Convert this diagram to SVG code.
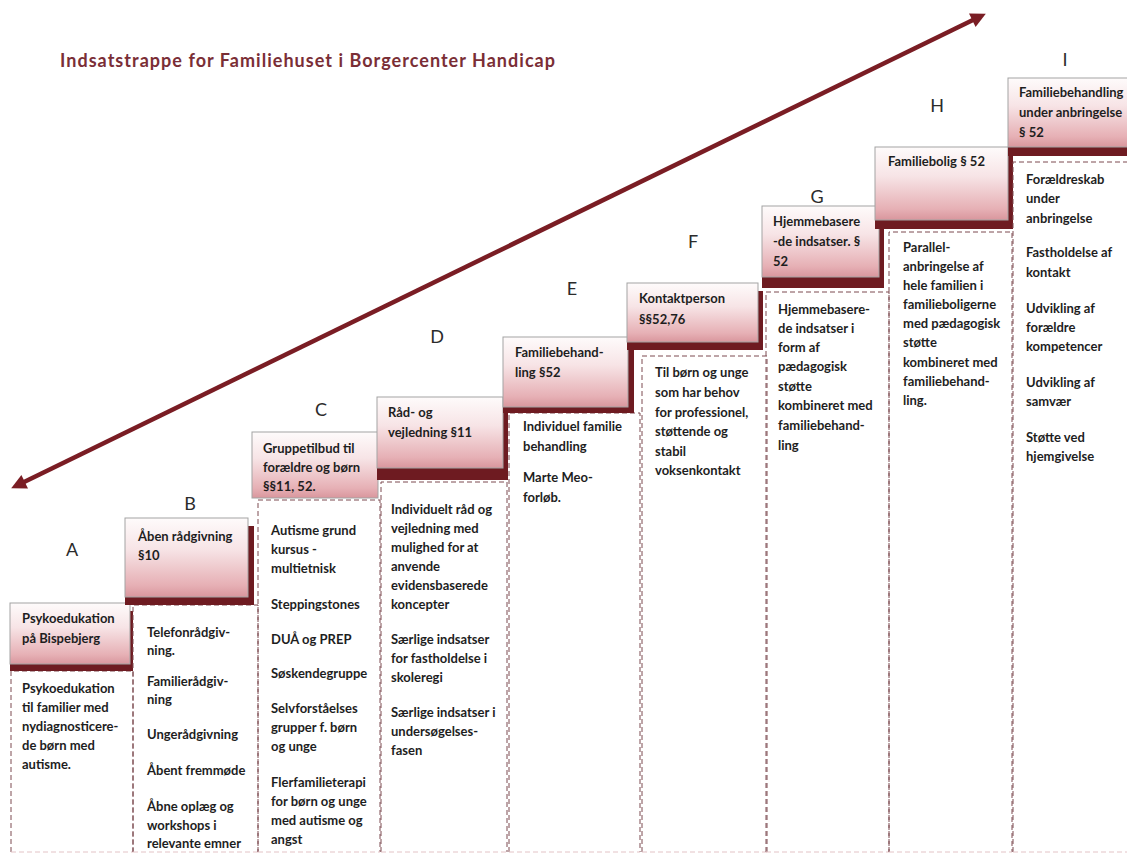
<svg xmlns="http://www.w3.org/2000/svg" width="1127" height="856" viewBox="0 0 1127 856">
<defs>
<linearGradient id="hg" x1="0" y1="0" x2="0" y2="1">
<stop offset="0" stop-color="#fefbfb"/>
<stop offset="0.4" stop-color="#f7e4e6"/>
<stop offset="0.85" stop-color="#e6b0b5"/>
<stop offset="1" stop-color="#d9969d"/>
</linearGradient>
<marker id="ah" viewBox="0 0 10 10" refX="2" refY="5" markerWidth="18" markerHeight="15" markerUnits="userSpaceOnUse" orient="auto-start-reverse"><path d="M0,0 L10,5 L0,10 z" fill="#7a1d24"/></marker>
</defs>
<style>
.t{font-family:Lato,"Liberation Sans",sans-serif;font-weight:700;font-size:13px;fill:#1e1e1e}
.lt{font-family:Lato,"Liberation Sans",sans-serif;font-size:18px;fill:#2b2b2b;text-anchor:middle}
.hd{fill:url(#hg);stroke:#a3a3a3;stroke-width:1}
.sh{fill:#6e1b21}
.cb{fill:none;stroke:#7d4a50;stroke-width:1;stroke-dasharray:5 3}
.bt{fill:none;stroke:#e3c3c6;stroke-width:1;stroke-dasharray:5 3}
.ttl{font-family:Lato,"Liberation Sans",sans-serif;font-weight:700;font-size:18px;fill:#7a2e36}
.arr{stroke:#7a1d24;stroke-width:4.5;fill:none}
</style>
<rect width="1127" height="856" fill="#fff"/>
<text class="ttl" x="60" y="67" textLength="495" lengthAdjust="spacing">Indsatstrappe for Familiehuset i Borgercenter Handicap</text>

<g id="connectors">
<line class="arr" x1="22" y1="483" x2="975" y2="19" marker-start="url(#ah)" marker-end="url(#ah)"/>
</g>

<g id="step-A">
<path class="cb" d="M11,852 V671 H133 V852"/><path class="bt" d="M11,852 H133"/>
<rect class="sh" x="10" y="611" width="123" height="60"/>
<rect class="hd" x="10" y="603" width="120" height="61"/>
<text class="lt" x="72" y="556">A</text>
<text class="t" x="22" y="623">Psykoedukation</text>
<text class="t" x="22" y="643">på Bispebjerg</text>
<text class="t" x="22" y="693">Psykoedukation</text>
<text class="t" x="22" y="712">til familier med</text>
<text class="t" x="22" y="731">nydiagnosticere-</text>
<text class="t" x="22" y="750">de børn med</text>
<text class="t" x="22" y="769">autisme.</text>
</g>

<g id="step-B">
<path class="cb" d="M133,852 V605 H258 V852"/><path class="bt" d="M133,852 H258"/>
<rect class="sh" x="125" y="526" width="129" height="79"/>
<rect class="hd" x="125" y="518" width="123" height="79"/>
<text class="lt" x="190" y="510">B</text>
<text class="t" x="138" y="541">Åben rådgivning</text>
<text class="t" x="138" y="560">§10</text>
<text class="t" x="147" y="637">Telefonrådgiv-</text>
<text class="t" x="147" y="655">ning.</text>
<text class="t" x="147" y="686">Familierådgiv-</text>
<text class="t" x="147" y="704">ning</text>
<text class="t" x="147" y="739">Ungerådgivning</text>
<text class="t" x="147" y="775">Åbent fremmøde</text>
<text class="t" x="147" y="811">Åbne oplæg og</text>
<text class="t" x="147" y="830">workshops i</text>
<text class="t" x="147" y="848">relevante emner</text>
</g>

<g id="step-C">
<path class="cb" d="M258,852 V500 H380 V852"/><path class="bt" d="M258,852 H380"/>
<rect class="hd" x="252" y="432" width="126" height="66"/>
<text class="lt" x="321" y="416">C</text>
<text class="t" x="263" y="453">Gruppetilbud til</text>
<text class="t" x="263" y="472">forældre og børn</text>
<text class="t" x="263" y="491">§§11, 52.</text>
<text class="t" x="271" y="535">Autisme grund</text>
<text class="t" x="271" y="554">kursus -</text>
<text class="t" x="271" y="573">multietnisk</text>
<text class="t" x="271" y="609">Steppingstones</text>
<text class="t" x="271" y="644">DUÅ og PREP</text>
<text class="t" x="271" y="678">Søskendegruppe</text>
<text class="t" x="271" y="713">Selvforståelses</text>
<text class="t" x="271" y="732">grupper f. børn</text>
<text class="t" x="271" y="751">og unge</text>
<text class="t" x="271" y="787">Flerfamilieterapi</text>
<text class="t" x="271" y="806">for børn og unge</text>
<text class="t" x="271" y="825">med autisme og</text>
<text class="t" x="271" y="844">angst</text>
</g>

<g id="step-D">
<path class="cb" d="M381,852 V482 H507 V852"/><path class="bt" d="M381,852 H507"/>
<rect class="sh" x="377" y="407" width="131" height="73"/>
<rect class="hd" x="377" y="397" width="126" height="71"/>
<text class="lt" x="437" y="343">D</text>
<text class="t" x="388" y="417">Råd- og</text>
<text class="t" x="388" y="437">vejledning §11</text>
<text class="t" x="391" y="514">Individuelt råd og</text>
<text class="t" x="391" y="533">vejledning med</text>
<text class="t" x="391" y="552">mulighed for at</text>
<text class="t" x="391" y="571">anvende</text>
<text class="t" x="391" y="590">evidensbaserede</text>
<text class="t" x="391" y="609">koncepter</text>
<text class="t" x="391" y="644">Særlige indsatser</text>
<text class="t" x="391" y="663">for fastholdelse i</text>
<text class="t" x="391" y="682">skoleregi</text>
<text class="t" x="391" y="717">Særlige indsatser i</text>
<text class="t" x="391" y="736">undersøgelses-</text>
<text class="t" x="391" y="755">fasen</text>
</g>

<g id="step-E">
<path class="cb" d="M509,852 V413 H640 V852"/><path class="bt" d="M509,852 H640"/>
<rect class="sh" x="503" y="345" width="131" height="68"/>
<rect class="hd" x="503" y="337" width="125" height="70"/>
<text class="lt" x="572" y="295">E</text>
<text class="t" x="515" y="357">Familiebehand-</text>
<text class="t" x="515" y="377">ling §52</text>
<text class="t" x="523" y="431">Individuel familie</text>
<text class="t" x="523" y="451">behandling</text>
<text class="t" x="523" y="482">Marte Meo-</text>
<text class="t" x="523" y="502">forløb.</text>
</g>

<g id="step-F">
<path class="cb" d="M642,852 V356 H767 V852"/><path class="bt" d="M642,852 H767"/>
<rect class="sh" x="627" y="291" width="136" height="59"/>
<rect class="hd" x="627" y="283" width="131" height="59"/>
<text class="lt" x="693" y="248">F</text>
<text class="t" x="639" y="303">Kontaktperson</text>
<text class="t" x="639" y="324">§§52,76</text>
<text class="t" x="655" y="377">Til børn og unge</text>
<text class="t" x="655" y="397">som har behov</text>
<text class="t" x="655" y="417">for professionel,</text>
<text class="t" x="655" y="436">støttende og</text>
<text class="t" x="655" y="456">stabil</text>
<text class="t" x="655" y="475">voksenkontakt</text>
</g>

<g id="step-G">
<path class="cb" d="M766,852 V292 H889 V852"/><path class="bt" d="M766,852 H889"/>
<rect class="sh" x="762" y="214" width="122" height="74"/>
<rect class="hd" x="762" y="206" width="117" height="71"/>
<text class="lt" x="817" y="203">G</text>
<text class="t" x="773" y="226">Hjemmebasere</text>
<text class="t" x="773" y="246">-de indsatser. §</text>
<text class="t" x="773" y="266">52</text>
<text class="t" x="778" y="314">Hjemmebasere-</text>
<text class="t" x="778" y="333">de indsatser i</text>
<text class="t" x="778" y="352">form af</text>
<text class="t" x="778" y="371">pædagogisk</text>
<text class="t" x="778" y="391">støtte</text>
<text class="t" x="778" y="410">kombineret med</text>
<text class="t" x="778" y="430">familiebehand-</text>
<text class="t" x="778" y="450">ling</text>
</g>

<g id="step-H">
<path class="cb" d="M889,852 V232 H1012 V852"/><path class="bt" d="M889,852 H1012"/>
<rect class="sh" x="875" y="155" width="138" height="74"/>
<rect class="hd" x="875" y="147" width="133" height="73"/>
<text class="lt" x="937" y="112">H</text>
<text class="t" x="888" y="166">Familiebolig § 52</text>
<text class="t" x="903" y="252">Parallel-</text>
<text class="t" x="903" y="271">anbringelse af</text>
<text class="t" x="903" y="290">hele familien i</text>
<text class="t" x="903" y="309">familieboligerne</text>
<text class="t" x="903" y="328">med pædagogisk</text>
<text class="t" x="903" y="347">støtte</text>
<text class="t" x="903" y="367">kombineret med</text>
<text class="t" x="903" y="386">familiebehand-</text>
<text class="t" x="903" y="405">ling.</text>
</g>

<g id="step-I">
<path class="cb" d="M1013,852 V162 H1130"/><path class="bt" d="M1013,852 H1127"/>
<rect class="sh" x="1008" y="86" width="125" height="70"/>
<rect class="hd" x="1008" y="78" width="125" height="69"/>
<text class="lt" x="1065" y="66">I</text>
<text class="t" x="1019" y="97">Familiebehandling</text>
<text class="t" x="1019" y="117">under anbringelse</text>
<text class="t" x="1019" y="137">§ 52</text>
<text class="t" x="1026" y="184">Forældreskab</text>
<text class="t" x="1026" y="203">under</text>
<text class="t" x="1026" y="223">anbringelse</text>
<text class="t" x="1026" y="257">Fastholdelse af</text>
<text class="t" x="1026" y="277">kontakt</text>
<text class="t" x="1026" y="313">Udvikling af</text>
<text class="t" x="1026" y="332">forældre</text>
<text class="t" x="1026" y="351">kompetencer</text>
<text class="t" x="1026" y="387">Udvikling af</text>
<text class="t" x="1026" y="406">samvær</text>
<text class="t" x="1026" y="442">Støtte ved</text>
<text class="t" x="1026" y="461">hjemgivelse</text>
</g>
</svg>
